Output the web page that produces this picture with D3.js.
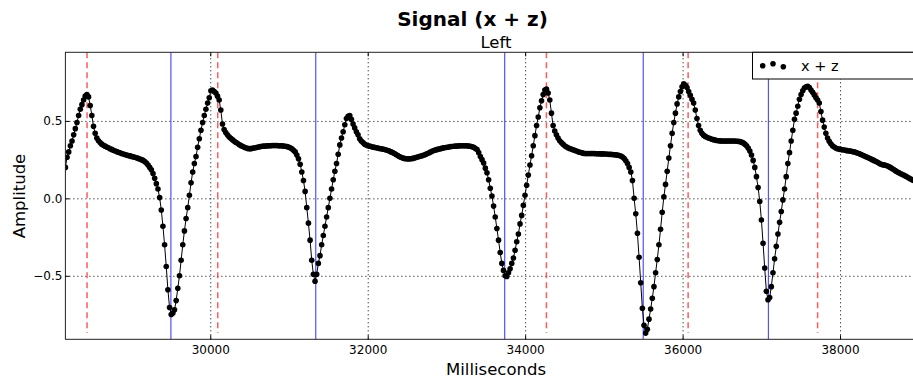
<!DOCTYPE html>
<html><head><meta charset="utf-8">
<script src="https://cdn.jsdelivr.net/npm/d3@7"></script>
<style>body{margin:0;background:#fff} svg{display:block;font-family:"DejaVu Sans",sans-serif}</style>
</head><body><svg id="c" width="913" height="380"></svg>
<script>
const sampleStartMs = 28160;
const samplePeriodMs = 21;
const amplitude = [
0.20,0.265,0.30,0.34,0.37,0.41,0.45,0.49,0.535,0.575,0.605,0.635,0.66,0.67,0.655,0.60,0.535,0.465,0.42,0.39,
0.372,0.36,0.35,0.343,0.337,0.331,0.326,0.32,0.316,0.311,0.306,0.302,0.298,0.294,0.29,0.286,0.283,0.28,0.277,0.274,
0.271,0.268,0.265,0.262,0.258,0.254,0.25,0.245,0.238,0.228,0.215,0.20,0.185,0.16,0.13,0.095,0.06,0.005,-0.075,-0.18,
-0.30,-0.44,-0.59,-0.705,-0.75,-0.74,-0.72,-0.66,-0.58,-0.50,-0.40,-0.30,-0.21,-0.13,-0.06,0.02,0.10,0.17,0.225,0.27,
0.33,0.385,0.44,0.49,0.535,0.575,0.615,0.65,0.695,0.70,0.69,0.68,0.66,0.635,0.57,0.48,0.445,0.425,0.41,0.398,
0.388,0.379,0.37,0.362,0.355,0.348,0.342,0.336,0.331,0.327,0.323,0.321,0.321,0.323,0.325,0.327,0.33,0.332,0.334,0.336,
0.337,0.338,0.339,0.34,0.34,0.341,0.341,0.341,0.341,0.34,0.34,0.339,0.338,0.336,0.334,0.331,0.327,0.32,0.31,0.30,
0.28,0.255,0.22,0.17,0.115,0.045,-0.06,-0.16,-0.27,-0.40,-0.49,-0.535,-0.49,-0.42,-0.37,-0.30,-0.24,-0.18,-0.12,-0.06,
0.0,0.06,0.12,0.175,0.225,0.285,0.345,0.39,0.43,0.475,0.515,0.53,0.535,0.51,0.48,0.455,0.43,0.41,0.385,0.37,
0.36,0.35,0.344,0.34,0.337,0.334,0.331,0.329,0.327,0.325,0.322,0.32,0.318,0.315,0.312,0.309,0.305,0.30,0.295,0.289,
0.283,0.276,0.27,0.265,0.261,0.258,0.256,0.255,0.255,0.256,0.258,0.26,0.263,0.267,0.27,0.273,0.276,0.28,0.284,0.289,
0.294,0.30,0.305,0.309,0.313,0.316,0.319,0.321,0.324,0.326,0.328,0.33,0.332,0.334,0.335,0.336,0.337,0.338,0.339,0.34,
0.34,0.34,0.34,0.339,0.338,0.336,0.333,0.329,0.322,0.315,0.295,0.27,0.25,0.228,0.195,0.165,0.12,0.065,0.015,-0.05,
-0.12,-0.195,-0.27,-0.35,-0.42,-0.465,-0.50,-0.505,-0.48,-0.455,-0.42,-0.385,-0.335,-0.28,-0.23,-0.165,-0.11,-0.045,0.02,0.085,
0.15,0.215,0.275,0.34,0.405,0.47,0.525,0.585,0.63,0.67,0.70,0.705,0.68,0.635,0.55,0.47,0.435,0.41,0.39,0.372,
0.36,0.35,0.34,0.333,0.327,0.322,0.318,0.314,0.31,0.306,0.302,0.298,0.295,0.292,0.29,0.289,0.289,0.289,0.289,0.289,
0.289,0.288,0.288,0.288,0.287,0.287,0.286,0.286,0.285,0.284,0.284,0.283,0.282,0.281,0.279,0.277,0.273,0.267,0.257,0.243,
0.225,0.20,0.17,0.115,0.0,-0.10,-0.225,-0.38,-0.545,-0.71,-0.82,-0.87,-0.845,-0.78,-0.715,-0.645,-0.57,-0.48,-0.395,-0.30,
-0.20,-0.09,0.01,0.09,0.175,0.26,0.34,0.42,0.49,0.55,0.61,0.655,0.69,0.72,0.74,0.73,0.715,0.69,0.665,0.64,
0.615,0.57,0.515,0.47,0.44,0.42,0.408,0.40,0.395,0.39,0.386,0.382,0.379,0.376,0.374,0.372,0.371,0.37,0.37,0.37,
0.37,0.37,0.37,0.37,0.37,0.37,0.369,0.368,0.366,0.363,0.358,0.35,0.34,0.325,0.305,0.28,0.245,0.20,0.14,0.07,
-0.02,-0.14,-0.29,-0.45,-0.60,-0.655,-0.64,-0.57,-0.48,-0.39,-0.31,-0.23,-0.155,-0.085,-0.01,0.06,0.14,0.225,0.295,0.37,
0.44,0.51,0.55,0.595,0.64,0.67,0.695,0.712,0.72,0.723,0.715,0.70,0.685,0.668,0.65,0.635,0.615,0.56,0.505,0.46,
0.42,0.39,0.368,0.352,0.34,0.332,0.325,0.32,0.318,0.316,0.314,0.312,0.31,0.308,0.306,0.305,0.303,0.30,0.297,0.293,
0.289,0.285,0.28,0.275,0.27,0.265,0.26,0.255,0.25,0.245,0.24,0.234,0.228,0.222,0.218,0.216,0.214,0.21,0.205,0.20,
0.193,0.186,0.179,0.172,0.166,0.16,0.155,0.15,0.145,0.139,0.133,0.127,0.121,0.116
];
const blueMarkersMs = [29500, 31340, 33740, 35500, 37090];
const redMarkersMs = [28435, 30095, 34270, 36070, 37715];
const xTicks = [30000, 32000, 34000, 36000, 38000];
const yTicks = [-0.5, 0.0, 0.5];
const xDomain = [28160, 38952];
const yDomain = [-0.91, 0.943];
const titleText = "Signal (x + z)";
const subtitleText = "Left";
const xLabelText = "Milliseconds";
const yLabelText = "Amplitude";
const legendLabel = "x + z";
const legendYOffsets = [0.375, 0.5, 0.3125];

const svg = d3.select("#c");
const L = 65.4, R = 915, T = 52.3, B = 339.3;
const x = d3.scaleLinear().domain(xDomain).range([L, R]);
const y = d3.scaleLinear().domain(yDomain).range([B, T]);
const data = amplitude.map((v, i) => ({t: sampleStartMs + i * samplePeriodMs, v}));

svg.append("defs").append("clipPath").attr("id", "clip")
  .append("rect").attr("x", L).attr("y", T).attr("width", R - L).attr("height", B - T);

// grid
const gx = svg.append("g").attr("transform", `translate(0,${B})`)
  .call(d3.axisBottom(x).tickValues(xTicks).tickSize(-(B - T)).tickFormat(""));
gx.select(".domain").remove();
gx.selectAll("line").attr("stroke", "#000").attr("stroke-width", 1).attr("stroke-dasharray", "1,3");
const gy = svg.append("g").attr("transform", `translate(${L},0)`)
  .call(d3.axisLeft(y).tickValues(yTicks).tickSize(-(R - L)).tickFormat(""));
gy.select(".domain").remove();
gy.selectAll("line").attr("stroke", "#000").attr("stroke-width", 1).attr("stroke-dasharray", "1,3");

const plot = svg.append("g").attr("clip-path", "url(#clip)");
const minV = d3.min(amplitude);
plot.selectAll("line.blue").data(blueMarkersMs).join("line").attr("class", "blue")
  .attr("x1", d => x(d)).attr("x2", d => x(d)).attr("y1", T).attr("y2", B)
  .attr("stroke", "#3333ff").attr("stroke-opacity", 0.85).attr("stroke-width", 1.2);
plot.selectAll("line.red").data(redMarkersMs).join("line").attr("class", "red")
  .attr("x1", d => x(d)).attr("x2", d => x(d)).attr("y1", T).attr("y2", y(minV))
  .attr("stroke", "#ff3333").attr("stroke-opacity", 0.8).attr("stroke-width", 1.5).attr("stroke-dasharray", "6,4");

plot.append("path").datum(data)
  .attr("d", d3.line().x(d => x(d.t)).y(d => y(d.v)))
  .attr("fill", "none").attr("stroke", "#000").attr("stroke-width", 1);
plot.selectAll("circle").data(data).join("circle")
  .attr("cx", d => x(d.t)).attr("cy", d => y(d.v)).attr("r", 2.8).attr("fill", "#000");

// frame
svg.append("rect").attr("x", L).attr("y", T).attr("width", R - L).attr("height", B - T)
  .attr("fill", "none").attr("stroke", "#222").attr("stroke-width", 1);

// inside ticks
[["bottom", B, d3.axisBottom(x).tickValues(xTicks).tickSize(-4).tickFormat("")],
 ["top", T, d3.axisTop(x).tickValues(xTicks).tickSize(-4).tickFormat("")]].forEach(([n, pos, ax]) => {
  const g = svg.append("g").attr("transform", `translate(0,${pos})`).call(ax);
  g.select(".domain").remove();
  g.selectAll("line").attr("stroke", "#000");
});
const tl = svg.append("g").attr("transform", `translate(${L},0)`)
  .call(d3.axisLeft(y).tickValues(yTicks).tickSize(-4).tickFormat(""));
tl.select(".domain").remove(); tl.selectAll("line").attr("stroke", "#000");

// tick labels
const xl = svg.append("g").attr("transform", `translate(0,${B})`)
  .call(d3.axisBottom(x).tickValues(xTicks).tickSize(0).tickPadding(6).tickFormat(d3.format("d")));
xl.select(".domain").remove();
xl.selectAll("text").attr("font-size", 12).attr("fill", "#000").attr("font-family", "DejaVu Sans");
const yl = svg.append("g").attr("transform", `translate(${L},0)`)
  .call(d3.axisLeft(y).tickValues(yTicks).tickSize(0).tickPadding(3).tickFormat(d3.format(".1f")));
yl.select(".domain").remove();
yl.selectAll("text").attr("font-size", 12).attr("fill", "#000").attr("font-family", "DejaVu Sans");

// titles
svg.append("text").attr("x", 472.5).attr("y", 26).attr("text-anchor", "middle")
  .attr("font-size", 20).attr("font-weight", "bold").text(titleText);
svg.append("text").attr("x", 496).attr("y", 48).attr("text-anchor", "middle")
  .attr("font-size", 16.5).text(subtitleText);
svg.append("text").attr("x", 496).attr("y", 375).attr("text-anchor", "middle")
  .attr("font-size", 16.5).text(xLabelText);
svg.append("text").attr("transform", "translate(19,196) rotate(-90)").attr("text-anchor", "middle")
  .attr("dominant-baseline", "central").attr("font-size", 16.5).text(yLabelText);

// legend
const lg = svg.append("g");
lg.append("rect").attr("x", 752.5).attr("y", T).attr("width", 170).attr("height", 26.7)
  .attr("fill", "#fff").attr("stroke", "#000").attr("stroke-width", 1);
lg.selectAll("circle").data(legendYOffsets).join("circle")
  .attr("cx", (d, i) => 762.7 + i * 10.3).attr("cy", d => 63.7 + (0.5 - d) * 16)
  .attr("r", 2.8).attr("fill", "#000");
lg.append("text").attr("x", 801).attr("y", 65.5).attr("dominant-baseline", "central")
  .attr("font-size", 14.5).text(legendLabel);
</script></body></html>
